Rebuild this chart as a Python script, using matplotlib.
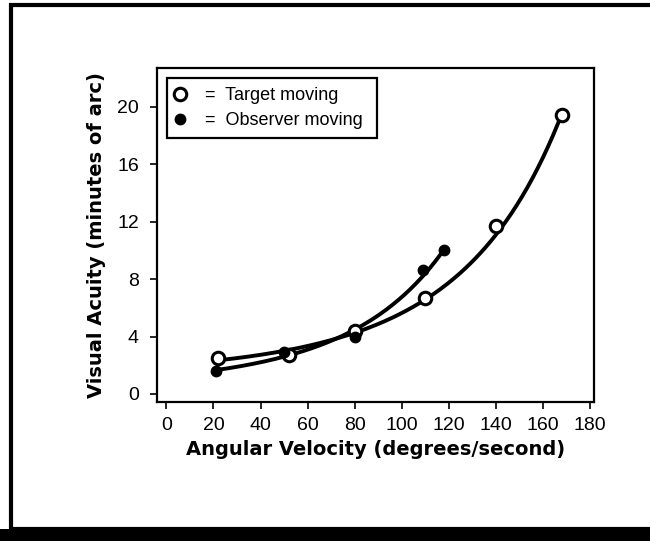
import numpy as np
import matplotlib
matplotlib.use("Agg")
import matplotlib.pyplot as plt
from matplotlib.patches import Rectangle

plt.rcParams['font.family'] = ['Liberation Sans', 'DejaVu Sans']

# data
target_x = [22, 52, 80, 110, 140, 168]
target_y = [2.5, 2.7, 4.4, 6.7, 11.7, 19.4]
observer_x = [21, 50, 80, 109, 118]
observer_y = [1.6, 2.9, 4.0, 8.6, 10.0]

x_ticks = [0, 20, 40, 60, 80, 100, 120, 140, 160, 180]
y_ticks = [0, 4, 8, 12, 16, 20]

fig = plt.figure(figsize=(6.5, 5.41), dpi=100)
ax = fig.add_axes([0.2415, 0.2569, 0.6723, 0.6174])

# smooth fitted curves (quadratic in log space) through each series
p_t = np.polyfit(target_x, np.log(target_y), 2, w=[1, 1, 1, 1, 1, 3])
xs_t = np.linspace(min(target_x), max(target_x), 200)
ax.plot(xs_t, np.exp(np.polyval(p_t, xs_t)), color="black", lw=2.8, zorder=2)

p_o = np.polyfit(observer_x, np.log(observer_y), 2)
xs_o = np.linspace(min(observer_x), max(observer_x), 200)
ax.plot(xs_o, np.exp(np.polyval(p_o, xs_o)), color="black", lw=2.8, zorder=2)

ax.plot(target_x, target_y, "o", ms=9, mfc="white", mec="black", mew=2.2,
        zorder=3, label="=  Target moving ")
ax.plot(observer_x, observer_y, "o", ms=7.5, mfc="black", mec="black",
        zorder=3, label="=  Observer moving ")

ax.set_xlim(-4, 181.7)
ax.set_ylim(-0.56, 22.7)
ax.set_xticks(x_ticks)
ax.set_yticks(y_ticks)
ax.tick_params(direction="out", length=5, width=1.2, labelsize=14,
               colors="black")
ax.tick_params(axis="x", pad=6)
ax.tick_params(axis="y", pad=8)
for s in ax.spines.values():
    s.set_linewidth(1.6)

ax.set_xlabel("Angular Velocity (degrees/second)", fontsize=14,
              fontweight="bold", family="DejaVu Sans", labelpad=4)
ax.set_ylabel("Visual Acuity (minutes of arc)", fontsize=14,
              fontweight="bold", family="DejaVu Sans", labelpad=8)

leg = ax.legend(loc="upper left", fontsize=13, handlelength=0.5,
                handletextpad=1.1, borderpad=0.5, labelspacing=0.45,
                fancybox=False, edgecolor="black", framealpha=1,
                borderaxespad=0.55)
leg.get_frame().set_linewidth(1.6)

# outer frame of the scanned page
fig.patches.append(Rectangle((11 / 650, 1 - 529 / 541), 1.2, 524 / 541,
                             transform=fig.transFigure, fill=False,
                             edgecolor="black", lw=3))
fig.patches.append(Rectangle((0, 0), 1, 12 / 541, transform=fig.transFigure,
                             facecolor="black", edgecolor="none"))

fig.savefig("out.png", dpi=100)
